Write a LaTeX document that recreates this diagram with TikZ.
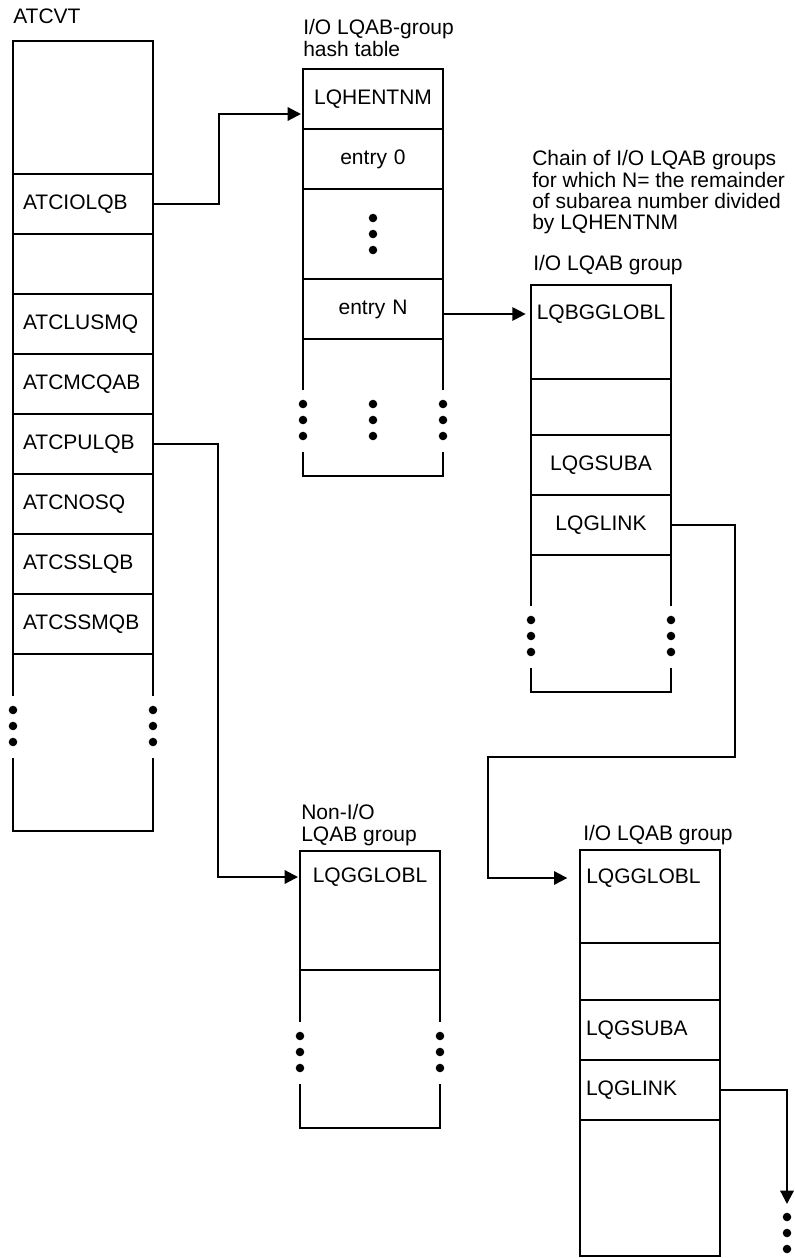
\documentclass[tikz,border=0pt]{standalone}
\usepackage{fontspec}
\setmainfont{Liberation Sans}
\usetikzlibrary{arrows.meta,positioning}

\tikzset{
  rim/.style={line width=1.8pt},
  slot/.style={draw,rim,rectangle,minimum width=105pt,minimum height=45pt,
    inner sep=0pt,outer sep=0pt,text width=90pt,align=left},
  cslot/.style={slot,align=center},
  kslot/.style={slot,text width=96pt},
  heading/.style={anchor=north west,inner sep=0pt,align=left},
  ptr/.style={line width=1.6pt,-{Triangle[length=10pt,width=10pt]}},
}

% open lower end of a block: sides, gap with dots, sides, bottom
\newcommand{\opentail}[3]{%
  \draw[rim] (#1.south west) -- ++(0,#2) ++(0,62) -- ++(0,#3) -- ++(140,0)
    -- ++(0,-#3) ++(0,-62) -- ++(0,-#2);
  \foreach \dx in {0,140} \foreach \dy in {14,30,46}
    \fill (#1.south west) ++(\dx,#2+\dy) circle (3.2pt);}

\begin{document}
\begin{tikzpicture}[x=0.75pt,y=-0.75pt,font=\fontsize{15.75pt}{16pt}\selectfont]
  \useasboundingbox (0,0) rectangle (794,1258);

  % ATCVT
  \node[heading] (atcvt) at (13,8.5) {ATCVT};
  \node[slot,anchor=north west,minimum height=99.75pt] (a0) at (13,41) {};
  \node[slot,below=0pt of a0] (a1) {ATCIOLQB};
  \node[slot,below=0pt of a1] (a2) {};
  \node[slot,below=0pt of a2] (a3) {ATCLUSMQ};
  \node[slot,below=0pt of a3] (a4) {ATCMCQAB};
  \node[slot,below=0pt of a4] (a5) {ATCPULQB};
  \node[slot,below=0pt of a5] (a6) {ATCNOSQ};
  \node[slot,below=0pt of a6] (a7) {ATCSSLQB};
  \node[slot,below=0pt of a7] (a8) {ATCSSMQB};
  \opentail{a8}{42}{73}

  % hash table
  \node[heading] (hashhd) at (303,19.5) {I/O LQAB-group\\hash table};
  \node[cslot,anchor=north west] (h1) at (303,69) {LQHENTNM};
  \node[cslot,below=0pt of h1] (h2) {entry 0};
  \node[cslot,below=0pt of h2,minimum height=67.5pt] (h3) {};
  \node[cslot,below=0pt of h3] (h4) {entry N};
  \foreach \dy in {-16,0,16} \fill (h3.center) ++(0,\dy) circle (3.2pt);
  \opentail{h4}{51}{24}
  \foreach \dy in {14,30,46} \fill (h4.south) ++(0,51+\dy) circle (3.2pt);

  \node[heading] (chainnote) at (532,150.5)
    {Chain of I/O LQAB groups\\for which N= the remainder\\of subarea number divided\\by LQHENTNM};

  % first I/O group
  \node[heading] (g1hd) at (533,255.5) {I/O LQAB group};
  \node[cslot,anchor=north west,minimum height=70.5pt] (g1) at (531,285) {};
  \node[inner sep=0pt] (g1t) at ([yshift=-21.75pt]g1.north) {LQBGGLOBL};
  \node[cslot,below=0pt of g1,minimum height=42pt] (g2) {};
  \node[cslot,below=0pt of g2] (g3) {LQGSUBA};
  \node[cslot,below=0pt of g3] (g4) {LQGLINK};
  \opentail{g4}{51}{24}

  % non-I/O group
  \node[heading] (n1hd) at (301,804.5) {Non-I/O\\LQAB group};
  \node[cslot,anchor=north west,minimum height=89.25pt] (n1) at (300,851) {};
  \node[inner sep=0pt] (n1t) at ([yshift=-19.5pt]n1.north) {LQGGLOBL};
  \opentail{n1}{52}{44}

  % second I/O group
  \node[heading] (k1hd) at (583,825.5) {I/O LQAB group};
  \node[kslot,anchor=north west,minimum height=69.75pt] (k1) at (580,850) {};
  \node[inner sep=0pt,anchor=west] (k1t) at ([xshift=4.5pt,yshift=-21pt]k1.north west) {LQGGLOBL};
  \node[kslot,below=0pt of k1,minimum height=42.75pt] (k2) {};
  \node[kslot,below=0pt of k2] (k3) {LQGSUBA};
  \node[kslot,below=0pt of k3] (k4) {LQGLINK};
  \node[kslot,below=0pt of k4,minimum height=102pt] (k5) {};

  % pointers
  \draw[ptr,shorten >=1.5pt] (a1.east) -- ++(66,0) |- ([yshift=-11.25pt]h1.west);
  \draw[ptr,shorten >=1.5pt] (a5.east) -- ++(65,0) |- (n1.west |- n1t);
  \draw[ptr,shorten >=4pt] (h4.east |- g1t) -- (g1.west |- g1t);
  \coordinate (bend) at (488,757);
  \draw[ptr,shorten >=9.5pt] (g4.east) -- ++(64,0) |- (bend) |- (k1.west |- k1t);
  \coordinate (more) at (787,1204);
  \draw[ptr] (k4.east) -| (more);
  \foreach \dy in {1217,1233,1249} \fill (787,\dy) circle (3.2pt);
\end{tikzpicture}
\end{document}
